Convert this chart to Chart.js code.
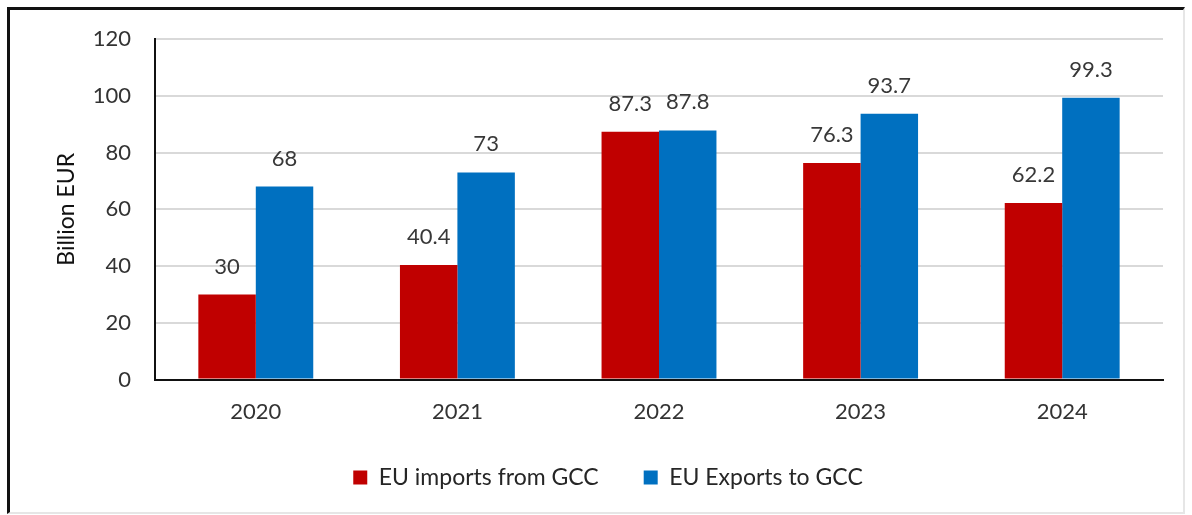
<!DOCTYPE html>
<html><head><meta charset="utf-8">
<script src="https://cdn.jsdelivr.net/npm/chart.js@4.4.1/dist/chart.umd.min.js"></script>
<style>
html,body{margin:0;padding:0;background:#fff;}
#wrap{position:absolute;left:0;top:0;width:1192px;height:515px;}
#frame{position:absolute;left:7px;top:7px;width:1173px;height:502px;border-left:3px solid #111;border-top:3px solid #111;border-right:2px solid #e6e6e6;border-bottom:2px solid #e6e6e6;pointer-events:none;}
canvas{position:absolute;left:0;top:0;}
</style></head>
<body>
<div id="wrap"><canvas id="c" width="1192" height="515"></canvas><div id="frame"></div></div>
<script>
const categories = ['2020','2021','2022','2023','2024'];
const importsGCC = [30, 40.4, 87.3, 76.3, 62.2];
const exportsGCC = [68, 73, 87.8, 93.7, 99.3];
const seriesNames = ['EU imports from GCC','EU Exports to GCC'];
const yTicks = [0,20,40,60,80,100,120];

const FONT = 'Lato, "Open Sans", sans-serif';
const LEGEND_TRIM = 23;

const labelPlugin = {
  id:'barLabels',
  afterDatasetsDraw(chart){
    const ctx = chart.ctx;
    ctx.save();
    ctx.font = '22px ' + FONT;
    ctx.fillStyle = '#383838';
    ctx.textAlign = 'center';
    ctx.textBaseline = 'bottom';
    chart.data.datasets.forEach((ds,i)=>{
      const meta = chart.getDatasetMeta(i);
      meta.data.forEach((bar,j)=>{
        ctx.fillText(String(ds.data[j]), bar.x, bar.y - 17);
      });
    });
    ctx.restore();
  }
};

const legendTrim = {
  id:'legendTrim',
  beforeLayout(chart){
    const lg = chart.legend;
    if (lg && !lg._trimmed){
      const orig = lg.fit.bind(lg);
      lg.fit = function(){ orig(); this.height = Math.max(0, this.height - LEGEND_TRIM); };
      lg._trimmed = true;
    }
  },
  afterLayout(chart){
    const lg = chart.legend;
    if (lg){ lg.top -= LEGEND_TRIM; }
  }
};

new Chart(document.getElementById('c'), {
  type:'bar',
  data:{
    labels:categories,
    datasets:[
      {label:seriesNames[0], data:importsGCC, backgroundColor:'#c00000', barPercentage:1, categoryPercentage:0.57},
      {label:seriesNames[1], data:exportsGCC, backgroundColor:'#0070c0', barPercentage:1, categoryPercentage:0.57}
    ]
  },
  options:{
    responsive:false, animation:false,
    layout:{padding:{left:53, right:29, top:39, bottom:16}},
    plugins:{
      legend:{position:'bottom', labels:{boxWidth:14, boxHeight:14, color:'#262626', font:{size:23, family:FONT}, padding:45}},
      tooltip:{enabled:false}
    },
    scales:{
      x:{
        grid:{display:false, drawTicks:false},
        border:{display:true, color:'#111', width:2},
        ticks:{color:'#333', font:{size:22, family:FONT}, padding:19}
      },
      y:{
        min:0, max:120,
        afterBuildTicks(s){ s.ticks = yTicks.map(v=>({value:v})); },
        afterFit(s){ s.width = 102; },
        grid:{color:'#d9d9d9', lineWidth:2, drawTicks:false},
        border:{display:true, color:'#111', width:2},
        ticks:{color:'#333', font:{size:22, family:FONT}, padding:24},
        title:{display:true, text:'Billion EUR', color:'#111', font:{size:23, family:FONT}, padding:0}
      }
    }
  },
  plugins:[labelPlugin, legendTrim]
});
</script>
</body></html>
